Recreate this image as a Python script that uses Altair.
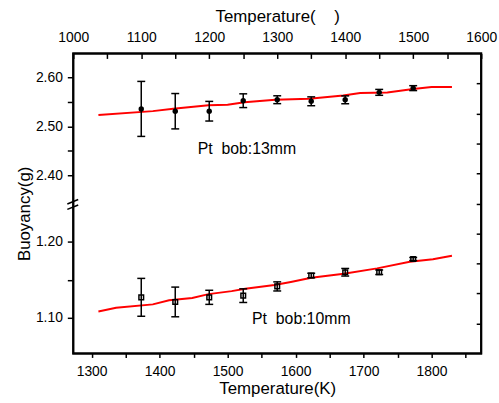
import altair as alt
import pandas as pd

# ---------------- data ----------------
temp_k = [1373, 1423, 1473, 1523, 1573, 1623, 1673, 1723, 1773]

bob13 = [2.5355, 2.5308, 2.5308, 2.5522, 2.5542, 2.5510, 2.5540, 2.5692, 2.5778]
bob13_err = [0.056, 0.036, 0.020, 0.014, 0.008, 0.009, 0.008, 0.006, 0.005]

bob10 = [1.1268, 1.1207, 1.1268, 1.1290, 1.1412, 1.1556, 1.1599, 1.1599, 1.1774]
bob10_err = [0.025, 0.0196, 0.0093, 0.009, 0.006, 0.003, 0.005, 0.003, 0.002]

fit13_t = [1310, 1390, 1420, 1472, 1500, 1525, 1570, 1620, 1670, 1695, 1735, 1773, 1800, 1830]
fit13_v = [2.523, 2.531, 2.536, 2.543, 2.544, 2.549, 2.554, 2.556, 2.563, 2.568, 2.569, 2.576, 2.580, 2.580]

fit10_t = [1310, 1336, 1390, 1414, 1448, 1472, 1506, 1526, 1569, 1593, 1623, 1671, 1720, 1768, 1802, 1830]
fit10_v = [1.108, 1.113, 1.1175, 1.123, 1.126, 1.131, 1.135, 1.138, 1.143, 1.147, 1.1526, 1.158, 1.165, 1.1737, 1.177, 1.1816]

labels = ["Pt\u00a0 bob:13mm", "Pt\u00a0 bob:10mm"]
label_t = [1456, 1536]
label_v = [2.4433, 1.0911]

x_ticks_k = [1300, 1350, 1400, 1450, 1500, 1550, 1600, 1650, 1700, 1750, 1800, 1850]
x_ticks_c = [1000, 1050, 1100, 1150, 1200, 1250, 1300, 1350, 1400, 1450, 1500, 1550, 1600]
y_ticks_top = [2.40, 2.45, 2.50, 2.55, 2.60]
y_ticks_bot = [1.10, 1.15, 1.20]
right_ticks = [1, 2, 3, 4, 5, 6, 7, 8, 9]

x_title_bottom = "Temperature(K)"
x_title_top = "Temperature(\u00a0\u00a0\u00a0\u00a0)"
y_title = "Buoyancy(g)"

# ---------------- broken-axis scale (two linear pieces) ----------------
W, H = 412, 303
X_DOMAIN = [1273, 1873]
C_DOMAIN = [1000, 1600]
TOP_REF, TOP_AT, TOP_K = 2.60, 279.0, 496.0   # upper piece: 2.60 sits at 279 units
BOT_REF, BOT_AT, BOT_K = 1.10, 36.2, 765.0    # lower piece: 1.10 sits at 36.2 units


def pos_expr(f):
    return (f"datum.seg == 'top' ? {TOP_AT} - ({TOP_REF} - datum.{f}) * {TOP_K} "
            f": {BOT_AT} + (datum.{f} - {BOT_REF}) * {BOT_K}")


y_tick_pos = ([TOP_AT - (TOP_REF - v) * TOP_K for v in y_ticks_top] +
              [BOT_AT + (v - BOT_REF) * BOT_K for v in y_ticks_bot])
inv = (f"(datum.value > 150 ? {TOP_REF} - ({TOP_AT} - datum.value) / {TOP_K} "
       f": {BOT_REF} + (datum.value - {BOT_AT}) / {BOT_K})")
ylab = f"round({inv} * 100) % 10 == 0 ? format({inv}, '.2f') : ''"

NFONT = "Liberation Sans Narrow, Liberation Sans, Arial"
TFONT = "Liberation Sans, Arial"
LW = 1.5
FW = 2

common_axis = dict(grid=False, tickColor="black", labelColor="black", titleColor="black",
                   tickWidth=LW, domain=False, labelFont=NFONT, labelFontSize=14,
                   titleFont=TFONT, titleFontSize=17, titleFontWeight="normal",
                   labelFlush=False)

x_axis = alt.Axis(orient="bottom", values=x_ticks_k,
                  labelExpr="datum.value % 100 == 0 ? format(datum.value, 'd') : ''",
                  title=x_title_bottom, tickSize=4, labelPadding=7, titlePadding=2,
                  **common_axis)
y_axis = alt.Axis(orient="left", values=y_tick_pos, labelExpr=ylab, title=y_title,
                  tickSize=6, labelPadding=5, titleX=-49.5, titleY=161.5,
                  titleAlign="center", titleBaseline="middle", titleAngle=270,
                  **common_axis)
top_axis = alt.Axis(orient="top", values=x_ticks_c,
                    labelExpr="datum.value % 100 == 0 ? format(datum.value, 'd') : ''",
                    title=x_title_top, tickSize=5, offset=-5, labelPadding=9,
                    titlePadding=5, **common_axis)
right_axis = alt.Axis(orient="right", values=right_ticks, labels=False, title=None,
                      tickSize=5, offset=-5, grid=False, domain=False,
                      tickColor="black", tickWidth=LW)

xs = alt.Scale(domain=X_DOMAIN, nice=False, zero=False)
ys = alt.Scale(domain=[0, H], nice=False, zero=False)


def X(f):
    return alt.X(f, type="quantitative", scale=xs, axis=x_axis)


def Y(f):
    return alt.Y(f, type="quantitative", scale=ys, axis=y_axis)


pts = pd.DataFrame({"seg": ["top"] * len(temp_k) + ["bot"] * len(temp_k),
                    "T": temp_k + temp_k, "v": bob13 + bob10, "e": bob13_err + bob10_err})
pts["lo"] = pts["v"] - pts["e"]
pts["hi"] = pts["v"] + pts["e"]
fits = pd.DataFrame({"seg": ["top"] * len(fit13_t) + ["bot"] * len(fit10_t),
                     "T": fit13_t + fit10_t, "v": fit13_v + fit10_v})
labs = pd.DataFrame({"seg": ["top", "bot"], "T": label_t, "v": label_v, "label": labels})

# plot frame: a closed outline along the domain corners, drawn through the scales
frame = pd.DataFrame({"k": [0, 1, 2, 3, 4],
                      "T": [X_DOMAIN[0], X_DOMAIN[1], X_DOMAIN[1], X_DOMAIN[0], X_DOMAIN[0]],
                      "y": [0, 0, H, H, 0]})

P = alt.Chart(pts).transform_calculate(yp=pos_expr("v"), ylo=pos_expr("lo"), yhi=pos_expr("hi"))

frame_line = alt.Chart(frame).mark_line(color="black", strokeWidth=FW, strokeCap="square",
                                        strokeJoin="miter").encode(
    x=X("T"), y=Y("y"), order="k:Q")
line = alt.Chart(fits).transform_calculate(yp=pos_expr("v")).mark_line(
    color="#ff0000", strokeWidth=2).encode(x=X("T"), y=Y("yp"), detail="seg:N")
bars = P.mark_rule(color="black", strokeWidth=LW).encode(x=X("T"), y=Y("ylo"), y2="yhi")
cap_lo = P.mark_tick(color="black", orient="horizontal", size=8, thickness=LW,
                     opacity=1).encode(x=X("T"), y=Y("ylo"))
cap_hi = P.mark_tick(color="black", orient="horizontal", size=8, thickness=LW,
                     opacity=1).encode(x=X("T"), y=Y("yhi"))
dots = P.transform_filter("datum.seg == 'top'").mark_point(
    shape="circle", filled=True, size=30, color="black", opacity=1).encode(x=X("T"), y=Y("yp"))
squares = P.transform_filter("datum.seg == 'bot'").mark_point(
    shape="square", filled=False, size=22, color="black", strokeWidth=LW,
    opacity=1).encode(x=X("T"), y=Y("yp"))
txt = alt.Chart(labs).transform_calculate(yp=pos_expr("v")).mark_text(
    align="left", baseline="alphabetic", font=TFONT, fontSize=16, color="black").encode(
    x=X("T"), y=Y("yp"), text="label:N")

one = pd.DataFrame({"c": [C_DOMAIN[0]], "r": [0]})
break1 = alt.Chart(one).mark_rule(color="black", strokeWidth=LW).encode(
    x=alt.value(-6), x2=alt.value(5), y=alt.value(152), y2=alt.value(147.5))
break2 = alt.Chart(one).mark_rule(color="black", strokeWidth=LW).encode(
    x=alt.value(-6), x2=alt.value(5), y=alt.value(157.5), y2=alt.value(153))

inner = alt.layer(frame_line, line, bars, cap_lo, cap_hi, dots, squares, txt, break1, break2)

guides = alt.Chart(one).mark_point(opacity=0).encode(
    x=alt.X("c:Q", scale=alt.Scale(domain=C_DOMAIN, nice=False, zero=False), axis=top_axis),
    y=alt.Y("r:Q", scale=alt.Scale(domain=[0, 10], nice=False, zero=False), axis=right_axis))

chart = alt.layer(inner, guides).resolve_scale(x="independent", y="independent").properties(
    width=W, height=H,
    padding={"left": 15, "top": 6, "right": 2, "bottom": 2},
    background="white",
).configure_view(stroke="black", strokeWidth=FW)

chart.save("out.html", embed_options={"renderer": "svg", "actions": False})
